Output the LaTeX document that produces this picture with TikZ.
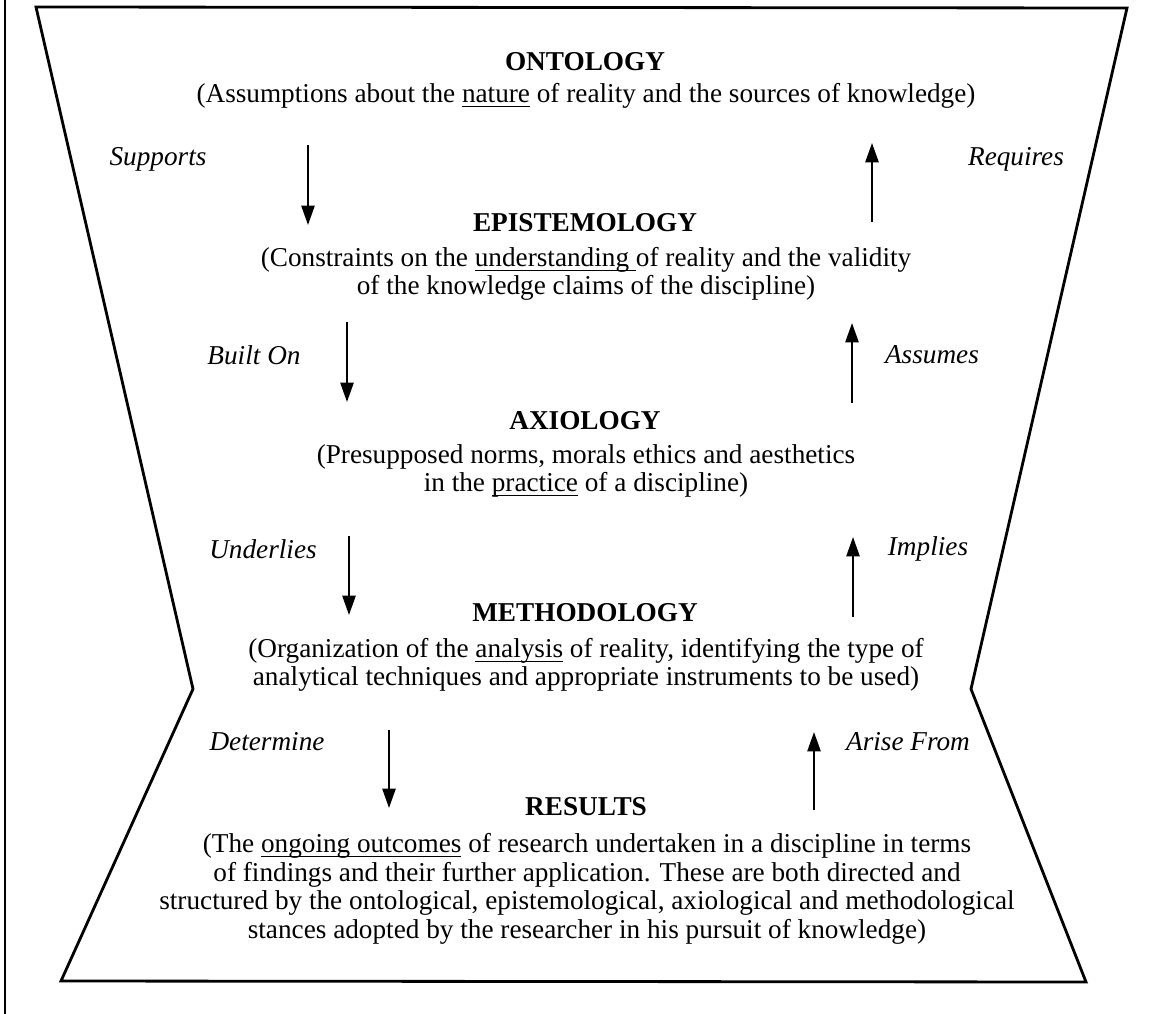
\documentclass[tikz,border=0pt]{standalone}
\usepackage{fontspec}
\setmainfont{Liberation Serif}
\usetikzlibrary{arrows.meta,positioning}
\newcommand{\ulword}[1]{\setbox0\hbox{#1}\rlap{\rule[-2.6pt]{\wd0}{0.7pt}}\box0\relax}

\tikzset{
  head/.style={font=\fontsize{15.5}{16.3}\selectfont\bfseries},
  desc/.style={font=\fontsize{15.5}{16.3}\selectfont, align=center},
  verb/.style={font=\fontsize{15.5}{16.3}\selectfont\itshape},
  link/.style={-{Triangle[length=11pt,width=7.5pt]}, line width=1.1pt},
  frame/.style={line width=1.6pt, line join=miter},
}

\begin{document}
\begin{tikzpicture}[x=0.02cm, y=-0.02cm]
  \useasboundingbox (0,0) rectangle (1163,1014);
  % outline
  \draw[frame] (36,7) -- (1127,8) -- (971,689) -- (1086,982)
     -- (61,981) -- (193,689) -- cycle;
  \draw[line width=1.6pt] (5,0) -- (5,1014);

  % levels
  \node[head] (ont) at (585,62) {ONTOLOGY};
  \node[desc] (ontd) at (586,96)
    {(Assumptions about the \ulword{nature} of reality and the sources of knowledge)};
  \node[head] (epi) at (585,223) {EPISTEMOLOGY};
  \node[desc] (epid) at (586,274)
    {(Constraints on the \ulword{understanding\ }of reality and the validity\\
     of the knowledge claims of the discipline)};
  \node[head] (axi) at (585,421) {AXIOLOGY};
  \node[desc] (axid) at (586,471)
    {(Presupposed norms, morals ethics and aesthetics\\
     in the \ulword{practice} of a discipline)};
  \node[head] (met) at (585,613) {METHODOLOGY};
  \node[desc] (metd) at (586,665)
    {(Organization of the \ulword{analysis} of reality, identifying the type of\\
     analytical techniques and appropriate instruments to be used)};
  \node[head] (res) at (586,807) {RESULTS};
  \node[desc] (resd) at (587,889)
    {(The \ulword{ongoing outcomes} of research undertaken in a discipline in terms\\
     of findings and their further application. These are both directed and\\
     structured by the ontological, epistemological, axiological and methodological\\
     stances adopted by the researcher in his pursuit of knowledge)};

  % link labels
  \node[verb] (sup) at (158,159) {Supports};
  \node[verb] (req) at (1016,159) {Requires};
  \node[verb] (bui) at (254,355) {Built On};
  \node[verb] (ass) at (932,355) {Assumes};
  \node[verb] (und) at (263,549) {Underlies};
  \node[verb] (imp) at (928,549) {Implies};
  \node[verb] (det) at (267,742) {Determine};
  \node[verb] (ari) at (908,742) {Arise From};

  % arrow ends
  \coordinate (s1) at (308,145); \coordinate (s2) at (308,225);
  \coordinate (b1) at (347,322); \coordinate (b2) at (347,402);
  \coordinate (u1) at (349,536); \coordinate (u2) at (349,615);
  \coordinate (d1) at (389,730); \coordinate (d2) at (389,808);
  \coordinate (r1) at (872,222); \coordinate (r2) at (872,143);
  \coordinate (a1) at (852,403); \coordinate (a2) at (852,323);
  \coordinate (i1) at (853,617); \coordinate (i2) at (853,537);
  \coordinate (f1) at (814,810); \coordinate (f2) at (814,732);

  \draw[link] (s1) -- (s2);
  \draw[link] (b1) -- (b2);
  \draw[link] (u1) -- (u2);
  \draw[link] (d1) -- (d2);
  \draw[link] (r1) -- (r2);
  \draw[link] (a1) -- (a2);
  \draw[link] (i1) -- (i2);
  \draw[link] (f1) -- (f2);
\end{tikzpicture}
\end{document}
